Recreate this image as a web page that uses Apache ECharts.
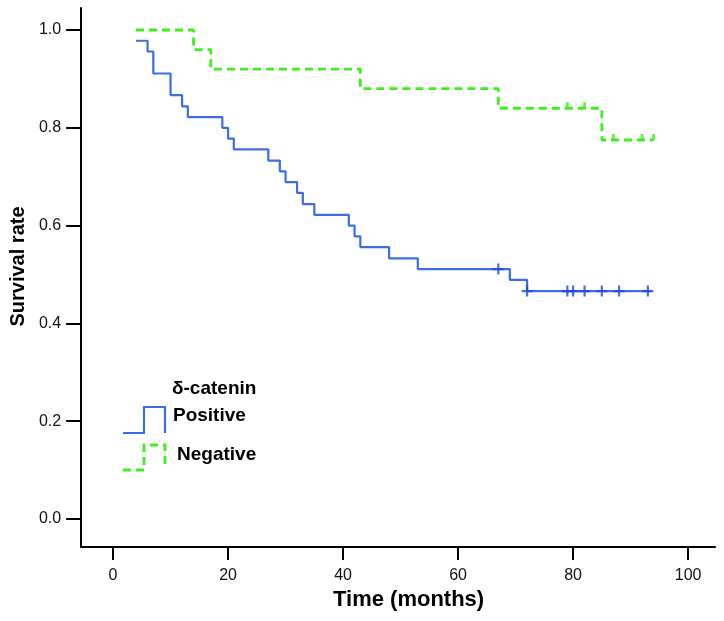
<!DOCTYPE html>
<html>
<head>
<meta charset="utf-8">
<script src="https://cdn.jsdelivr.net/npm/echarts@6/dist/echarts.min.js"></script>
<style>html,body{margin:0;padding:0;background:#fff}#c{width:724px;height:621px}</style>
</head>
<body>
<div id="c"></div>
<script>
// Positive group (step points: time, survival after event)
var posTimes = [4, 6, 7, 10, 12, 13, 19, 20, 21, 27, 29, 30, 32, 33, 35, 41, 42, 43, 48, 53, 69, 72, 93.5];
var posSurv  = [0.978, 0.956, 0.911, 0.867, 0.844, 0.822, 0.800, 0.778, 0.756, 0.733, 0.711, 0.689, 0.667, 0.644, 0.622, 0.600, 0.578, 0.556, 0.533, 0.511, 0.489, 0.466, 0.466];
var posCensTimes = [67, 72, 79, 80, 82, 85, 88, 93];
var posCensSurv  = [0.511, 0.466, 0.466, 0.466, 0.466, 0.466, 0.466, 0.466];
// Negative group
var negTimes = [4, 14, 17, 43, 67, 85, 94];
var negSurv  = [1.0, 0.96, 0.92, 0.88, 0.84, 0.775, 0.775];
var negCensTimes = [79, 82, 87, 92, 94];
var negCensSurv  = [0.84, 0.84, 0.775, 0.775, 0.775];
// Ticks
var xTicks = [0, 20, 40, 60, 80, 100];
var yTicks = [0, 0.2, 0.4, 0.6, 0.8, 1.0];

function zip(a, b) { return a.map(function (v, i) { return [v, b[i]]; }); }

var BLUE = '#3b6ee6', BLUE_D = '#1f45e6', GREEN = '#3def1c';
var FONT = 'Liberation Sans, Arial, Helvetica, sans-serif';

var chart = echarts.init(document.getElementById('c'), null, {renderer: 'canvas'});
chart.setOption({
  backgroundColor: '#fff',
  animation: false,
  grid: {left: 79, right: 9, top: 8, bottom: 74, containLabel: false},
  xAxis: {
    type: 'value', min: -5.55, max: 104.68,
    name: 'Time (months)', nameLocation: 'middle', nameGap: 41,
    nameTextStyle: {fontFamily: FONT, fontWeight: 'bold', fontSize: 22, color: '#000', padding: [0, 0, 0, 21]},
    axisLine: {show: true, onZero: false, lineStyle: {color: '#000', width: 2}},
    axisTick: {show: true, inside: false, length: 13, customValues: xTicks, lineStyle: {color: '#000', width: 2}},
    axisLabel: {show: true, margin: 21, customValues: xTicks, fontFamily: FONT, fontSize: 16, color: '#111',
      formatter: function (v) { return String(Math.round(v)); }},
    splitLine: {show: false}
  },
  yAxis: {
    type: 'value', min: -0.0573, max: 1.045,
    name: 'Survival rate', nameLocation: 'middle', nameGap: 51, nameRotate: 90,
    nameTextStyle: {fontFamily: FONT, fontWeight: 'bold', fontSize: 20, color: '#000', padding: [0, 0, 0, 22]},
    axisLine: {show: true, onZero: false, lineStyle: {color: '#000', width: 2}},
    axisTick: {show: true, inside: false, length: 15, customValues: yTicks, lineStyle: {color: '#000', width: 2}},
    axisLabel: {show: true, margin: 20, customValues: yTicks, fontFamily: FONT, fontSize: 16, color: '#111',
      formatter: function (v) { return v.toFixed(1); }},
    splitLine: {show: false}
  },
  series: [
    {name: 'Negative', type: 'line', step: 'end', data: zip(negTimes, negSurv), showSymbol: false, symbol: 'none',
      lineStyle: {color: GREEN, width: 2.8, type: [8, 5]}, z: 3},
    {name: 'Positive', type: 'line', step: 'end', data: zip(posTimes, posSurv), showSymbol: false, symbol: 'none',
      lineStyle: {color: BLUE, width: 2.2}, z: 4},
    {name: 'Negative censored', type: 'scatter', data: zip(negCensTimes, negCensSurv),
      symbol: 'rect', symbolSize: [3, 6], symbolOffset: [0, -3], itemStyle: {color: GREEN}, z: 5},
    {name: 'Positive censored', type: 'scatter', data: zip(posCensTimes, posCensSurv),
      symbol: 'path://M4,0H6V4H10V6H6V10H4V6H0V4H4Z', symbolSize: [11, 11], itemStyle: {color: BLUE_D}, z: 6}
  ],
  graphic: [
    {type: 'text', left: 172, top: 379, style: {text: 'δ-catenin', font: 'bold 19px ' + FONT, fill: '#000'}},
    {type: 'polyline', shape: {points: [[123, 433], [144, 433], [144, 407], [165, 407], [165, 433]]},
      style: {stroke: BLUE, lineWidth: 2.2, fill: null}},
    {type: 'text', left: 173, top: 406, style: {text: 'Positive', font: 'bold 19px ' + FONT, fill: '#000'}},
    {type: 'polyline', shape: {points: [[123, 470], [144, 470], [144, 445], [165, 445], [165, 468]]},
      style: {stroke: GREEN, lineWidth: 2.8, fill: null, lineDash: [8, 5]}},
    {type: 'text', left: 177, top: 445, style: {text: 'Negative', font: 'bold 19px ' + FONT, fill: '#000'}}
  ]
});
</script>
</body>
</html>
